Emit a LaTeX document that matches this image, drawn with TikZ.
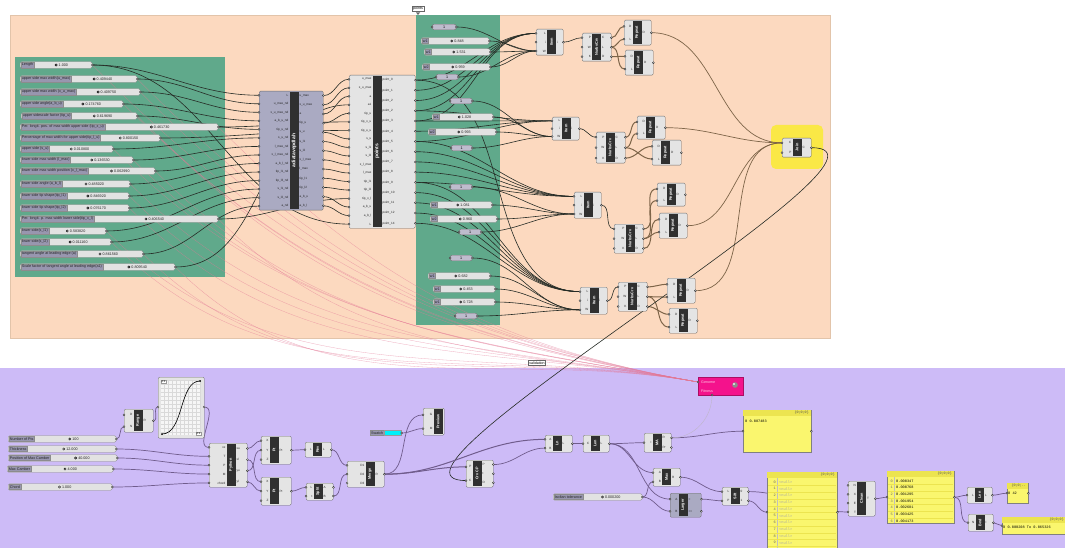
\documentclass[tikz,border=0pt]{standalone}
\usepackage{fontspec}
\setmainfont{Liberation Sans}
\newfontfamily\panelfont{Liberation Mono}
\usetikzlibrary{calc}

% canvas colours
\definecolor{peach}{RGB}{252,217,191}
\definecolor{peachedge}{RGB}{226,196,170}
\definecolor{grpgreen}{RGB}{96,169,139}
\definecolor{lilac}{RGB}{205,187,247}
\definecolor{joinyel}{RGB}{250,232,70}
\definecolor{compface}{RGB}{228,228,228}
\definecolor{compsel}{RGB}{170,170,194}
\definecolor{compedge}{RGB}{110,110,110}
\definecolor{compband}{RGB}{48,48,48}
\definecolor{sliderface}{RGB}{226,226,226}
\definecolor{sliderlab}{RGB}{152,150,175}
\definecolor{numface}{RGB}{190,188,205}
\definecolor{panelyel}{RGB}{250,246,110}
\definecolor{panelhead}{RGB}{236,228,80}
\definecolor{wireblk}{RGB}{38,44,38}
\definecolor{wiretan}{RGB}{125,100,72}
\definecolor{wirelil}{RGB}{112,92,140}
\definecolor{galpink}{RGB}{228,120,150}
\definecolor{genpink}{RGB}{244,18,140}
\definecolor{swcyan}{RGB}{0,240,250}

\pgfdeclarelayer{groups}
\pgfdeclarelayer{wires}
\pgfsetlayers{groups,wires,main}

\tikzset{
  comp/.style={draw=compedge, fill=compface, rounded corners=1.2, line width=0.4, inner sep=0},
  band/.style={fill=compband},
  bandtext/.style={text=white, font=\fontsize{3.8}{4}\selectfont\bfseries, inner sep=0},
  portlbl/.style={font=\fontsize{3.1}{3.4}\selectfont, inner sep=0.9, text=black!85},
  grip/.style={draw=black!85, fill=white, line width=0.35},
  slidetrack/.style={draw=black!45, fill=sliderface, rounded corners=1.5, minimum height=6.6, inner sep=0, line width=0.35},
  slidelbl/.style={fill=sliderlab, draw=black!45, line width=0.3, minimum height=5, inner sep=1, font=\fontsize{3.7}{4}\selectfont, text=black!85},
  slideval/.style={font=\fontsize{3.7}{4}\selectfont, inner sep=0, text=black!85},
  numbox/.style={fill=numface, draw=black!55, line width=0.35, rounded corners=2, minimum height=5.6, inner sep=0, font=\fontsize{3.7}{4}\selectfont},
  ypanel/.style={fill=panelyel, draw=black!50, line width=0.4, inner sep=0},
  panelhd/.style={font=\panelfont\fontsize{3.4}{3.6}\selectfont, inner sep=0, text=black!70},
  paneltxt/.style={font=\panelfont\fontsize{3.6}{4}\selectfont, inner sep=0, anchor=west},
  wire/.style={draw=wireblk, line width=0.6, out=0, in=180},
  treewire/.style={draw=wiretan, line width=1.0, out=0, in=180},
  lilwire/.style={draw=wirelil, line width=0.7, out=0, in=180},
  galwire/.style={draw=galpink, line width=0.3, opacity=0.6},
  grplbl/.style={draw=black!60, fill=white, font=\fontsize{3.6}{4}\selectfont, inner sep=1},
}

% number of entries in a port list
\newcommand{\countports}[1]{\gdef\nports{0}\foreach \q in {#1}{\xdef\nports{\the\numexpr\nports+1\relax}}}

% component: name, left, top, width, height, band centre, title
\newcommand{\ghcomp}[7]{%
  \node[comp, minimum width=#4, minimum height=#5, anchor=north west] (#1) at (#2,#3) {};
  \fill[band] ({#6-4.5},{#3+0.8}) rectangle ({#6+4.5},{#3+#5-0.8});
  \coordinate (#1-bl) at ({#6-4.5},#3);
  \coordinate (#1-br) at ({#6+4.5},#3);
  \node[bandtext, rotate=90] at (#6,{#3+#5/2}) {#7};}

\newcommand{\ghins}[2]{%
  \countports{#2}%
  \foreach \pname [count=\k] in {#2}{%
    \coordinate (#1-i\k) at ($(#1.north west)!{(\k-0.5)/\nports}!(#1.south west)$);
    \node[portlbl, anchor=east] at (#1-bl |- #1-i\k) {\pname};
    \draw[grip] (#1-i\k) circle (1);}}

\newcommand{\ghouts}[2]{%
  \countports{#2}%
  \foreach \pname [count=\k] in {#2}{%
    \coordinate (#1-o\k) at ($(#1.north east)!{(\k-0.5)/\nports}!(#1.south east)$);
    \node[portlbl, anchor=west] at (#1-br |- #1-o\k) {\pname};
    \draw[grip] (#1-o\k) circle (1);}}

% slider: name, left, y, width, label, value
\newcommand{\ghslider}[6]{%
  \node[slidetrack, minimum width=#4, anchor=west] (#1) at (#2,#3) {};
  \node[slidelbl, anchor=west] (#1-l) at ([xshift=0.7pt]#1.west) {#5};
  \node[slideval] (#1-v) at ($(#1-l.east)!0.5!(#1.east)$) {#6};
  \draw[line width=0.45, fill=white] ([xshift=-2.4pt]#1-v.west) circle (1.1);
  \coordinate (#1-o) at (#1.east);
  \draw[grip] (#1-o) circle (1);}

% number box: name, left, y, width, text
\newcommand{\ghnum}[5]{%
  \node[numbox, minimum width=#4, anchor=west] (#1) at (#2,#3) {#5};
  \coordinate (#1-o) at (#1.east);
  \draw[grip] (#1.west) circle (1);
  \draw[grip] (#1-o) circle (1);}

% panel: name, left, top, width, height, header
\newcommand{\ghpanel}[6]{%
  \node[ypanel, minimum width=#4, minimum height=#5, anchor=north west] (#1) at (#2,#3) {};
  \fill[panelhead] ({#2+0.3},{#3+0.3}) rectangle ({#2+#4-0.3},{#3+6});
  \node[panelhd, anchor=north east] at ({#2+#4-2},{#3+1.2}) {#6};
  \coordinate (#1-in) at (#1.west);
  \coordinate (#1-o) at (#1.east);
  \draw[grip] (#1-in) circle (1);
  \draw[grip] (#1-o) circle (1);}

\begin{document}
\catcode`\_=12
\begin{tikzpicture}[x=1pt, y=-1pt]
\useasboundingbox (0,0) rectangle (1065,548);

% groups
\begin{pgfonlayer}{groups}
  \fill[white] (0,0) rectangle (1065,548);
  \filldraw[fill=peach, draw=peachedge, line width=0.5] (10,15) rectangle (830,338);
  \fill[grpgreen] (15,57) rectangle (225,277);
  \fill[grpgreen] (416,15) rectangle (500,325);
  \fill[joinyel, rounded corners=5] (771,125) rectangle (823,169);
  \fill[lilac] (0,368) rectangle (1065,548);
\end{pgfonlayer}

\node[grplbl] (ptlbl) at (418,8.5) {points};
\fill[black!60] (416,12.5) -- (420,12.5) -- (418,15) -- cycle;
\node[grplbl] (vallbl) at (537,363) {validation};

% section parameters
\ghslider{s01}{20}{65}{72}{Length}{1.000}
\ghslider{s02}{20}{79}{117}{upper side max width(u_max)}{0.409440}
\ghslider{s03}{20}{92}{120}{upper side max width (x_u_max)}{0.409750}
\ghslider{s04}{20}{104}{103}{upper side angle(a_b_u)}{0.174760}
\ghslider{s05}{21}{116}{116}{upper sidescale factor (tip_u)}{0.619690}
\ghslider{s06}{20}{127}{198}{Per. longit. pos. of max width upper side (tip_x_u)}{0.461730}
\ghslider{s07}{20}{138}{140}{Percentage of max width for upper side(tip_l_u)}{0.800150}
\ghslider{s08}{20}{149}{93}{upper side (s_u)}{0.010800}
\ghslider{s09}{20}{160}{113}{lower side max width (l_max)}{0.136530}
\ghslider{s10}{20}{171}{135}{lower side max width position (x_l_max)}{0.062990}
\ghslider{s11}{20}{184}{110}{lower side angle (a_b_l)}{0.485020}
\ghslider{s12}{20}{196}{109}{lower side tip shape(tip_l1)}{0.846920}
\ghslider{s13}{20}{208}{109}{lower side tip shape(tip_l2)}{0.076170}
\ghslider{s14}{20}{219}{198}{Per. longit. p. max width lower side(tip_x_l)}{0.406540}
\ghslider{s15}{20}{231}{86}{lower side(s_l1)}{0.583820}
\ghslider{s16}{20}{242}{91}{lower side(s_l2)}{0.011160}
\ghslider{s17}{20}{254}{123}{tangent angle at leading edge (a)}{0.861560}
\ghslider{s18}{20}{267}{155}{Scale factor of tangent angle at leading edge(a1)}{0.809540}

\begin{scope}[comp/.append style={fill=compsel}, bandtext/.append style={font=\fontsize{5}{5}\selectfont\bfseries}]
  \ghcomp{c1}{259}{91}{64}{119}{294}{adiatavepdlah}
\end{scope}
\ghins{c1}{L,u_max_nd,x_u_max_nd,a_b_u_nd,tip_u_nd,s_u_nd,l_max_nd,x_l_max_nd,a_b_l_nd,tip_l1_nd,tip_l3_nd,s_l1_nd,s_l2_nd,a_nd}
\ghouts{c1}{u_max,x_u_max,a,tip_u,s_u,s_l1,s_l2,x_l_max,l_max,tip_l1,tip_l2,a_b_u,a_b_l}

\begin{scope}[bandtext/.append style={font=\fontsize{5}{5}\selectfont\bfseries}]
  \ghcomp{c2}{349}{75}{66}{153}{377}{points}
\end{scope}
\ghins{c2}{u_max,x_u_max,a,a1,tip_u,tip_x_u,tip_u_u,s_u,s_l1,s_l2,x_l_max,l_max,tip_l1,tip_l2,tip_x_l,a_b_u,a_b_l,L}
\ghouts{c2}{point_0,point_1,point_2,point_2,point_3,point_4,point_5,point_6,point_7,point_8,point_9,point_10,point_11,point_12,point_14}

% weights
\ghnum{n1}{432}{27}{24}{1}
\ghslider{sw1}{421}{41}{68}{w1}{0.848}
\ghslider{sw2}{424}{52}{66}{w1}{1.531}
\ghslider{sw3}{422}{67}{68}{w2}{0.959}
\ghnum{n2}{436}{77}{22}{1}
\ghnum{n3}{450}{101}{22}{1}
\ghslider{sw4}{432}{117}{61}{w1}{1.028}
\ghslider{sw5}{428}{132}{68}{w2}{0.993}
\ghnum{n4}{451}{148}{21}{1}
\ghnum{n5}{450}{187}{22}{1}
\ghslider{sw6}{430}{205}{62}{w1}{1.081}
\ghslider{sw7}{430}{219}{67}{w2}{0.960}
\ghnum{n6}{459}{232}{22}{1}
\ghnum{n7}{450}{258}{22}{1}
\ghslider{sw8}{428}{276}{62}{w1}{0.682}
\ghslider{sw9}{433}{289}{62}{w1}{0.453}
\ghslider{sw10}{433}{302}{62}{w1}{0.728}
\ghnum{n8}{455}{316}{22}{1}

% curve segments
\ghcomp{it1}{536}{29}{27}{26}{551.5}{Item}
\ghcomp{nc1}{582}{33}{29}{28}{596.5}{NurbsCrv}
\ghcomp{rp1}{624}{20}{27}{25}{637}{Repeat}
\ghcomp{rp2}{625}{50}{28}{25}{638.5}{Repeat}
\ghcomp{it2}{552}{117}{27}{23}{566}{Item}
\ghcomp{nc2}{596}{132}{29}{31}{610}{NurbsCrv}
\ghcomp{rp3}{637}{116}{28}{23}{650.5}{Repeat}
\ghcomp{rp4}{652}{140}{29}{25}{665.5}{Repeat}
\ghcomp{it3}{574}{192}{27}{26}{588}{Item}
\ghcomp{nc3}{614}{224}{29}{29}{630}{NurbsCrv}
\ghcomp{rp5}{657}{183}{28}{23}{671}{Repeat}
\ghcomp{rp6}{659}{213}{28}{25}{673}{Repeat}
\ghcomp{it4}{580}{287}{27}{27}{594}{Item}
\ghcomp{nc4}{618}{282}{29}{29}{632}{NurbsCrv}
\ghcomp{rp7}{667}{278}{28}{25}{681}{Repeat}
\ghcomp{rp8}{669}{308}{28}{25}{683}{Repeat}
\foreach \g in {1,...,4}{
  \ghins{it\g}{L,i,W}\ghouts{it\g}{i}
  \ghins{nc\g}{P,W,K}\ghouts{nc\g}{C,L,D}}
\foreach \r in {1,...,8}{\ghins{rp\r}{D,L}\ghouts{rp\r}{D}}
\ghcomp{jn}{782}{138}{29}{19}{797}{Join}
\ghins{jn}{C,P}\ghouts{jn}{C}

% validation
\ghslider{nop}{8}{439}{108}{Number of Pts}{100}
\ghslider{thk}{8}{449}{108}{Thickness}{12.000}
\ghslider{pmc}{8}{458}{109}{Position of Max Camber}{40.000}
\ghslider{mxc}{7}{469}{106}{Max Camber}{4.000}
\ghslider{chd}{8}{487}{104}{Chord}{1.000}
\ghslider{tol}{553}{497}{89}{Isoltan tolerance}{0.000200}

\ghcomp{rng}{124}{409}{29}{23}{138}{Range}
\ghins{rng}{D,N}\ghouts{rng}{R}

\node[comp, minimum width=46, minimum height=61, anchor=north west] (gm) at (158,377) {};
\fill[white!93!gray] (161,380) rectangle (201,435);
\draw[black!15, line width=0.2, step=4pt] (161,380) grid (201,435);
\draw[line width=0.6] (162,434) .. controls (184,434) and (179,381) .. (200,381);
\fill (162,434) circle (1) (200,381) circle (1);
\node[fill=white, draw=black!40, line width=0.2, inner sep=0.5, anchor=north west, font=\fontsize{2.8}{3}\selectfont] at (161,380) {0:1};
\node[fill=white, draw=black!40, line width=0.2, inner sep=0.5, anchor=south east, font=\fontsize{2.8}{3}\selectfont] at (201,435) {0:1};
\coordinate (gm-in) at (158,407);
\coordinate (gm-o) at (204,407);
\draw[grip] (gm-in) circle (1) (gm-o) circle (1);

\ghcomp{py}{209}{443}{38}{44}{231}{Python}
\ghins{py}{xx,T,P,M,chord}\ghouts{py}{xu,xl,yu,yl}
\ghcomp{pta}{261}{436}{30}{28}{274}{Pt}
\ghcomp{ptb}{261}{477}{30}{28}{274}{Pt}
\ghins{pta}{X,Y,Z}\ghouts{pta}{Pt}
\ghins{ptb}{X,Y,Z}\ghouts{ptb}{Pt}
\ghcomp{rev}{305}{442}{26}{15}{317.5}{Rev}
\ghins{rev}{L}\ghouts{rev}{L}
\ghcomp{spl}{306}{483}{27}{17}{318}{Split}
\ghins{spl}{L,t}\ghouts{spl}{A,B}
\ghcomp{mrg}{347}{461}{37}{26}{370}{Merge}
\ghins{mrg}{D1,D2,D3}\ghouts{mrg}{R}

\node[slidelbl, anchor=west] (swl) at (370,433) {Swatch};
\node[fill=swcyan, draw=black!40, line width=0.3, minimum width=17, minimum height=5, inner sep=0, anchor=west] (swc) at (swl.east) {};
\coordinate (sw-o) at (swc.east);
\draw[grip] (sw-o) circle (1);

\ghcomp{prv}{423}{408}{21}{27}{438}{Preview}
\ghins{prv}{G,M}
\ghcomp{ccp}{466}{460}{27}{27}{477}{Crv CP}
\ghins{ccp}{P,C}\ghouts{ccp}{P,t,D}
\ghcomp{ln}{545}{435}{27}{17}{557}{Ln}
\ghins{ln}{A,B}\ghouts{ln}{L}
\ghcomp{len}{583}{435}{26}{17}{595}{Len}
\ghins{len}{C}\ghouts{len}{L}
\ghcomp{ma}{644}{433}{27}{19}{657}{MA}
\ghins{ma}{I}\ghouts{ma}{R,Pr}
\ghcomp{mx}{653}{468}{27}{18}{666.5}{Max}
\ghins{mx}{A,B}\ghouts{mx}{R}
\begin{scope}[comp/.append style={fill=compsel}]
  \ghcomp{lrg}{670}{493}{31}{24}{683}{Larger}
\end{scope}
\ghins{lrg}{A,B}\ghouts{lrg}{>,>=}
\ghcomp{sft}{722}{487}{26}{18}{735}{Sift}
\ghins{sft}{L,P}\ghouts{sft}{0,1}
\ghcomp{cln}{848}{481}{27}{35}{861.5}{Clean}
\ghins{cln}{N,X,E,T}\ghouts{cln}{T}
\ghcomp{ln2}{967}{487}{25}{16}{979.5}{Len}
\ghins{ln2}{L}\ghouts{ln2}{L}
\ghcomp{bnd}{968}{514}{25}{17}{980}{Bnd}
\ghins{bnd}{N}\ghouts{bnd}{I}

% panels
\ghpanel{pma}{743}{410}{68}{42}{\{0;0;0\}}
\node[paneltxt] at (745,421) {0 0.087483};
\ghpanel{pnull}{767}{472}{70}{80}{\{0;0;0\}}
\draw[black!25, line width=0.2] (777,478) -- (777,548);
\foreach \r in {0,...,9}{
  \node[paneltxt, anchor=east, text=black!60] at (776,{482+6.75*\r}) {\r};
  \node[paneltxt, text=black!35] at (779,{482+6.75*\r}) {<null>};
  \draw[panelhead, line width=0.3] (768,{485.4+6.75*\r}) -- (836,{485.4+6.75*\r});}
\ghpanel{pval}{887}{471}{67}{52}{\{0;0;0\}}
\begin{scope}
  \clip (887,477) rectangle (954,523);
  \draw[black!25, line width=0.2] (894,477) -- (894,523);
  \foreach \r/\v in {0/0.000347,1/0.000768,2/0.001295,3/0.001954,4/0.002681,5/0.003425,6/0.004173}{
    \node[paneltxt, anchor=east, text=black!60] at (893,{481+6.7*\r}) {\r};
    \node[paneltxt] at (896,{481+6.7*\r}) {\v};
    \draw[panelhead, line width=0.3] (888,{484.4+6.7*\r}) -- (953,{484.4+6.7*\r});}
\end{scope}
\ghpanel{p42}{1007}{483}{21}{20}{\{0;0;..}
\node[paneltxt] at (1008,493) {0 42};
\ghpanel{prng}{1002}{517}{64}{17}{\{0;0;0\}}
\node[paneltxt] at (1003,527) {0 0.000208 To 0.065326};

% optimiser
\node[fill=genpink, draw=genpink!70!black, line width=0.3, minimum width=45, minimum height=18, anchor=north west, inner sep=0] (gen) at (698,377) {};
\node[font=\fontsize{3.6}{4}\selectfont, text=white!80!genpink, anchor=west, inner sep=0] at (701,382) {Genome};
\node[font=\fontsize{3.6}{4}\selectfont, text=white!80!genpink, anchor=west, inner sep=0] at (701,391) {Fitness};
\fill[black!45] (735,385) circle (2.8);
\fill[white!85!gray] (734,384) circle (1.2);
\coordinate (gen-g) at (698,382);
\coordinate (gen-f) at (712,395);
\draw[grip] (gen-g) circle (1) (gen-f) circle (1);

% wires
\begin{pgfonlayer}{wires}
  \foreach \s in {s01,s02,s03,s04,s05,s06,s07,s08,s09,s10,s11,s12,s13,s14,s15,s16,s17,s18}
    \draw[galwire] (\s-o) to[out=-45, in=170] (gen-g);
  \foreach \s/\t in {s01/c1-i1,s01/c2-i18,s02/c1-i2,s03/c1-i3,s04/c1-i4,s05/c1-i5,s06/c2-i6,s07/c2-i7,s08/c1-i6,s09/c1-i7,s10/c1-i8,s11/c1-i9,s12/c1-i10,s13/c1-i11,s14/c2-i15,s15/c1-i12,s16/c1-i13,s17/c1-i14,s18/c2-i4}
    \draw[wire] (\s-o) to (\t);
  \foreach \a/\b in {1/1,2/2,3/3,4/5,5/8,6/9,7/10,8/11,9/12,10/13,11/14,12/16,13/17}
    \draw[wire] (c1-o\a) to (c2-i\b);
  \foreach \a/\b in {1/it1,2/it1,3/it1,4/it1,5/it1,4/it2,5/it2,6/it2,7/it2,7/it3,8/it3,9/it3,10/it3,11/it3,11/it4,12/it4,13/it4,14/it4,15/it4,1/it4}
    \draw[wire] (c2-o\a) to (\b-i1);
  \foreach \a/\b in {n1/it1,sw1/it1,sw2/it1,sw3/it1,n2/it1,n3/it2,sw4/it2,sw5/it2,n4/it2,n5/it3,sw6/it3,sw7/it3,n6/it3,n7/it4,sw8/it4,sw9/it4,sw10/it4,n8/it4}
    \draw[wire] (\a-o) to (\b-i3);
  \foreach \g/\p/\q in {1/1/2,2/3/4,3/5/6,4/7/8}{
    \draw[wire] (it\g-o1) to (nc\g-i1);
    \draw[treewire] (nc\g-o1) to (rp\p-i1);
    \draw[treewire] (nc\g-o2) to (rp\p-i2);
    \draw[treewire] (nc\g-o3) to (rp\q-i1);
    \draw[treewire] (nc\g-o2) to (rp\q-i2);}
  \foreach \r in {1,3,6,7}
    \draw[treewire, line width=0.7] (rp\r-o1) to (jn-i1);
  \draw[wire] (jn-o1) .. controls +(120,0) and +(-120,0) .. (ccp-i2);

  \draw[lilwire] (nop-o) to (rng-i2);
  \draw[lilwire] (rng-o1) to (gm-in);
  \draw[lilwire] (gm-o) to (py-i1);
  \foreach \a/\b in {thk/2,pmc/3,mxc/4,chd/5}
    \draw[lilwire] (\a-o) to (py-i\b);
  \draw[lilwire] (py-o1) to (pta-i1);
  \draw[lilwire] (py-o3) to (pta-i2);
  \draw[lilwire] (py-o2) to (ptb-i1);
  \draw[lilwire] (py-o4) to (ptb-i2);
  \draw[lilwire] (pta-o1) to (rev-i1);
  \draw[lilwire] (ptb-o1) to (spl-i1);
  \draw[lilwire] (rev-o1) to (mrg-i1);
  \draw[lilwire] (spl-o2) to (mrg-i2);
  \draw[lilwire] (mrg-o1) to (prv-i1);
  \draw[lilwire] (sw-o) to (prv-i2);
  \draw[lilwire, line width=1] (mrg-o1) to (ccp-i1);
  \draw[lilwire, line width=1] (mrg-o1) to (ln-i1);
  \draw[lilwire] (ccp-o1) to (ln-i2);
  \draw[lilwire] (ln-o1) to (len-i1);
  \draw[lilwire] (len-o1) to (ma-i1);
  \draw[lilwire] (len-o1) to (mx-i1);
  \draw[lilwire] (len-o1) to (lrg-i1);
  \draw[lilwire] (tol-o) to (mx-i2);
  \draw[lilwire] (tol-o) to (lrg-i2);
  \draw[lilwire] (mx-o1) to (sft-i1);
  \draw[lilwire] (lrg-o1) to (sft-i2);
  \draw[lilwire] (sft-o2) to (pnull-in);
  \draw[lilwire] (sft-o1) to (cln-i4);
  \draw[lilwire] (ma-o1) to (pma-in);
  \draw[lilwire] (cln-o1) to (pval-in);
  \draw[lilwire] (pval-o) to (ln2-i1);
  \draw[lilwire] (pval-o) to (bnd-i1);
  \draw[lilwire] (ln2-o1) to (p42-in);
  \draw[lilwire] (bnd-o1) to (prng-in);
  \draw[draw=white!55!wirelil, line width=0.4] (gen-f) to[out=-90, in=0] (ma-o1);
\end{pgfonlayer}
\end{tikzpicture}
\end{document}
